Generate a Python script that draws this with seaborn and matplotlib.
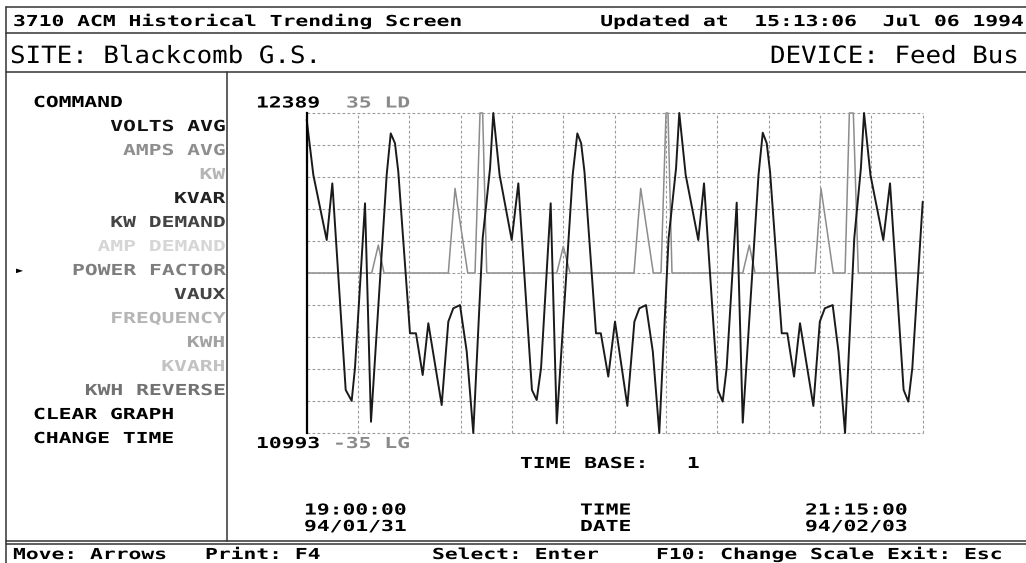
import numpy as np
import matplotlib
matplotlib.use("Agg")
import matplotlib.pyplot as plt
import matplotlib.patheffects as pe
from matplotlib.transforms import Affine2D
import seaborn as sns

# VOLTS AVG trace, hours after 19:00 94/01/31
volts_h = [0.00, 0.80, 2.41, 3.09, 4.70, 5.42, 5.82, 7.03, 7.75, 9.64, 10.13, 10.64, 11.04,
           12.45, 13.17, 13.98, 14.66, 16.27, 17.07, 17.67, 18.48, 19.29, 20.08, 21.21, 22.10,
           22.49, 23.25, 24.71, 25.51, 27.15, 27.72, 28.25, 29.41, 30.14, 32.06, 32.62, 33.08,
           33.48, 34.87, 35.45, 36.35, 37.16, 38.65, 39.50, 40.10, 40.90, 41.72, 42.50, 43.62,
           44.52, 44.91, 45.68, 47.20, 47.89, 49.55, 50.14, 50.62, 51.83, 52.56, 54.46, 54.97,
           55.45, 55.85, 57.26, 57.93, 58.74, 59.46, 61.07, 61.85, 62.45, 63.40, 64.10, 64.89,
           66.00, 66.80, 67.18, 67.95, 69.50, 70.31, 71.95, 72.52, 73.00, 74.25]
volts = [12360, 12119, 11835, 12082, 11181, 11133, 11277, 11995, 11042, 12119, 12300, 12257, 12133,
         11428, 11428, 11246, 11472, 11115, 11479, 11537, 11551, 11348, 10993, 11842, 12148,
         12389, 12119, 11835, 12082, 11181, 11137, 11277, 11995, 11035, 12119, 12300, 12257,
         12133, 11428, 11428, 11239, 11479, 11111, 11479, 11537, 11551, 11348, 10993, 11842,
         12148, 12389, 12119, 11835, 12082, 11181, 11130, 11277, 11998, 11038, 12119, 12303,
         12257, 12133, 11428, 11428, 11239, 11472, 11111, 11479, 11537, 11551, 11348, 10993,
         11842, 12148, 12389, 12119, 11835, 12082, 11181, 11130, 11277, 12002]

# POWER FACTOR trace (-35 LG .. 35 LD)
pf_h = [0.0, 7.84, 8.63, 9.32, 17.07, 17.88, 19.41, 20.29, 20.89, 21.21, 21.70,
        30.14, 30.93, 31.74, 39.45, 40.26, 41.78, 42.71, 43.31, 43.55, 44.03,
        52.56, 53.35, 54.04, 61.27, 61.99, 63.47, 64.89, 65.41, 65.89, 66.49, 74.25]
pf = [0, 0, 6.1, 0, 0, 18.5, 0, 0, 35, 35, 0,
      0, 5.8, 0, 0, 18.5, 0, 0, 35, 35, 0,
      0, 6.1, 0, 0, 18.5, 0, 0, 35, 35, 0, 0]

menu_items = ["VOLTS AVG", "AMPS AVG", "KW", "KVAR", "KW DEMAND", "AMP DEMAND",
              "POWER FACTOR", "VAUX", "FREQUENCY", "KWH", "KVARH", "KWH REVERSE"]
menu_shades = ["#111111", "#8e8e8e", "#b5b5b5", "#222222", "#444444", "#d6d6d6",
               "#7e7e7e", "#444444", "#b5b5b5", "#a2a2a2", "#c2c2c2", "#727272"]
selected = "POWER FACTOR"

v_min, v_max = 10993, 12389
pf_min, pf_max = -35, 35
t_span = 74.25          # 19:00:00 94/01/31 -> 21:15:00 94/02/03
n_xdiv, n_ydiv = 12, 10

W, H = 1026, 563


class Squash(pe.AbstractPathEffect):
    """squeeze glyphs vertically, the old VGA font is wide and flat"""
    def __init__(self, sy):
        super().__init__()
        self.sy = sy

    def draw_path(self, renderer, gc, tpath, affine, rgbFace=None):
        renderer.draw_path(gc, tpath, Affine2D().scale(1, self.sy) + affine, rgbFace)


sns.set_theme(style="white")
plt.rcParams['font.family'] = ['DejaVu Sans Mono', 'DejaVu Sans']

fig = plt.figure(figsize=(W / 100, H / 100), dpi=100)
fig.patch.set_facecolor("white")

# screen layer in pixel units
bg = fig.add_axes([0, 0, 1, 1])
bg.set_xlim(0, W)
bg.set_ylim(H, 0)
bg.axis('off')

BOLD = dict(fontsize=15.35, fontweight='bold', va='baseline', path_effects=[Squash(0.71)])
THIN = dict(fontsize=18.6, va='baseline', path_effects=[Squash(0.92)])

# frame
frame_c = "#333333"
for yy in [7, 33, 72, 541, 544]:
    bg.plot([6, W], [yy, yy], color=frame_c, lw=1.1)
bg.plot([6, 6], [7, H], color=frame_c, lw=1.1)
bg.plot([227, 227], [72, 541], color=frame_c, lw=1.1)

# header
bg.text(13, 26, "3710 ACM Historical Trending Screen", color="black", **BOLD)
bg.text(1021, 26, "Updated at  15:13:06  Jul 06 1994", color="black", ha='right', **BOLD)
bg.text(10, 63, "SITE: Blackcomb G.S.", color="black", **THIN)
bg.text(1020, 63, "DEVICE: Feed Bus", color="black", ha='right', **THIN)

# command menu
bg.text(33, 107, "COMMAND", color="black", **BOLD)
for i, (item, shade) in enumerate(zip(menu_items, menu_shades)):
    yb = 107 + 24 * (i + 1)
    bg.text(225, yb, item, color=shade, ha='right', **BOLD)
    if item == selected:
        bg.text(20, yb - 4.5, "\u25ba", color="black", fontsize=8.5, ha='center', va='center')
bg.text(33, 107 + 24 * 13, "CLEAR GRAPH", color="black", **BOLD)
bg.text(33, 107 + 24 * 14, "CHANGE TIME", color="black", **BOLD)

# scale labels
bg.text(256, 107.5, f"{v_max}", color="black", **BOLD)
bg.text(346, 107.5, f"{pf_max} LD", color="#8a8a8a", **BOLD)
bg.text(256, 448, f"{v_min}", color="black", **BOLD)
bg.text(333, 448, f"{pf_min} LG", color="#8a8a8a", **BOLD)

bg.text(520, 468, "TIME BASE:   1", color="black", **BOLD)
bg.text(304, 531, "19:00:00\n94/01/31", color="black", linespacing=0.78, **BOLD)
bg.text(580, 531, "TIME\nDATE", color="black", linespacing=0.78, **BOLD)
bg.text(805, 531, "21:15:00\n94/02/03", color="black", linespacing=0.78, **BOLD)

# status bar
bg.text(13, 559, "Move: Arrows", color="black", **BOLD)
bg.text(205, 559, "Print: F4", color="black", **BOLD)
bg.text(432, 559, "Select: Enter", color="black", **BOLD)
bg.text(656, 559, "F10: Change Scale Exit: Esc", color="black", **BOLD)

# trend plot
ax = fig.add_axes([306.7 / W, 1 - 433 / H, 616 / W, 320 / H])
ax2 = ax.twinx()
ax.set_zorder(3)
ax2.set_zorder(2)
ax.patch.set_visible(False)

grid_kw = dict(color="#9a9a9a", lw=0.8, ls=(0, (2.5, 2)), clip_on=False, zorder=0)
for xv in np.linspace(0, t_span, n_xdiv + 1):
    ax.axvline(xv, **grid_kw)
for yv in np.linspace(v_min, v_max, n_ydiv + 1):
    ax.axhline(yv, **grid_kw)

sns.lineplot(x=pf_h, y=pf, ax=ax2, color="#8c8c8c", linewidth=1.1,
             sort=False, estimator=None)
sns.lineplot(x=volts_h, y=volts, ax=ax, color="#1a1a1a", linewidth=1.4,
             sort=False, estimator=None)
for line in ax.get_lines() + ax2.get_lines():
    line.set_clip_on(False)

ax.set_xlim(0, t_span)
ax.set_ylim(v_min, v_max)
ax2.set_ylim(pf_min, pf_max)
for a in (ax, ax2):
    a.set_xticks([])
    a.set_yticks([])
    a.set_xlabel("")
    a.set_ylabel("")
    for s in a.spines.values():
        s.set_visible(False)
ax.spines['left'].set_visible(True)
ax.spines['left'].set_color("black")
ax.spines['left'].set_linewidth(1.6)

fig.savefig("out.png", dpi=100)
